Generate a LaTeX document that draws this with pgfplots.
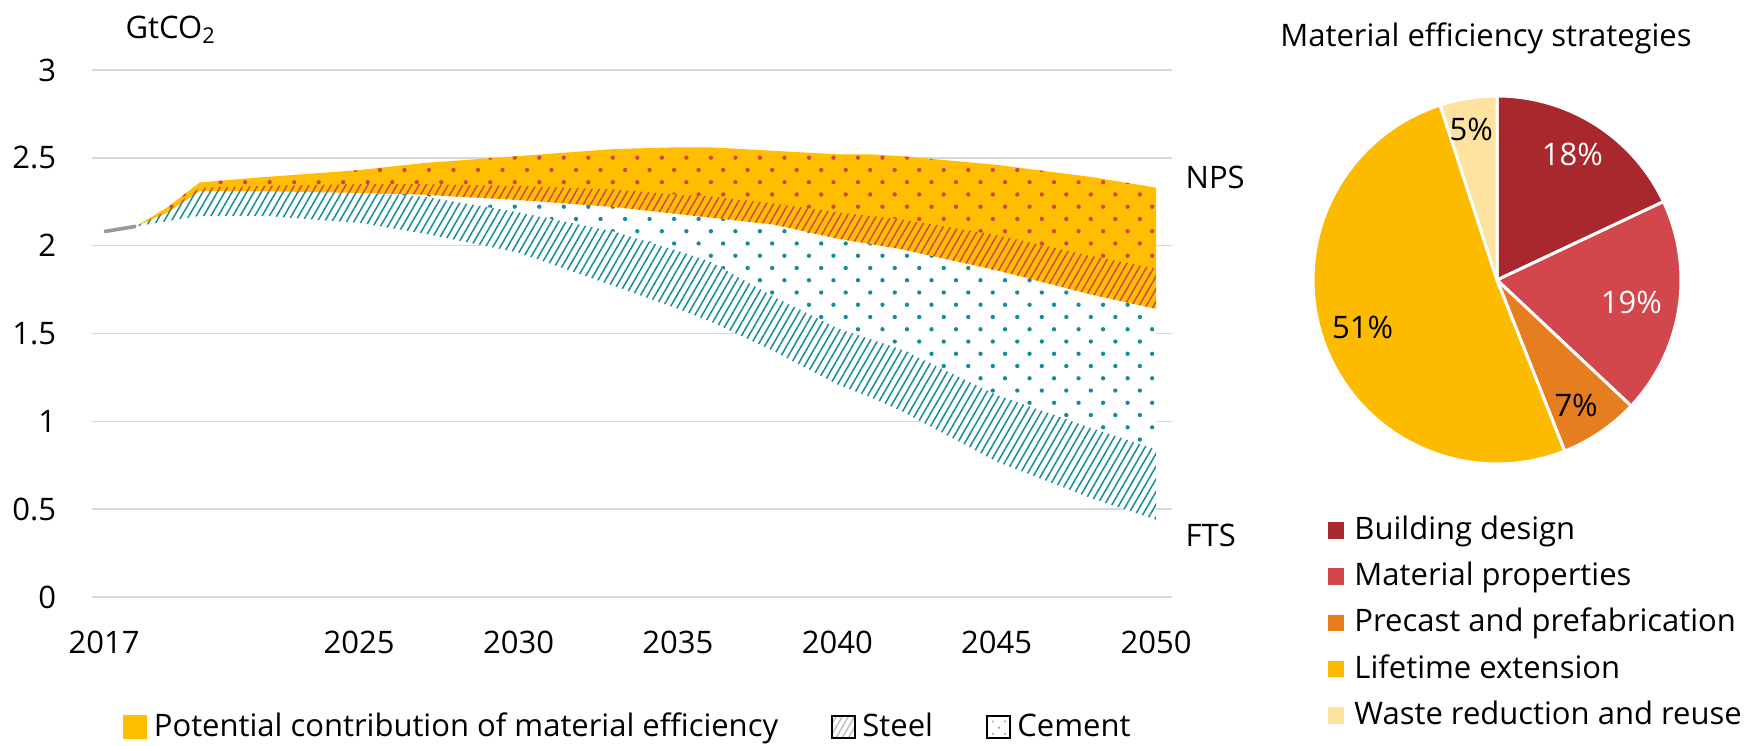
\documentclass[border=0pt]{standalone}
\usepackage{fontspec}
\setmainfont{Open Sans}
\usepackage{pgfplots}
\usepackage{pgfplotstable}
\pgfplotsset{compat=1.18}
\usepgfplotslibrary{fillbetween}
\usetikzlibrary{patterns.meta}

\definecolor{meyellow}{HTML}{FFBF00}
\definecolor{dotred}{HTML}{D2454B}
\definecolor{tealdot}{HTML}{138C9C}
\definecolor{gridgray}{HTML}{D9D9D9}
\definecolor{cbuild}{HTML}{A8282E}
\definecolor{cmat}{HTML}{D1474C}
\definecolor{cprecast}{HTML}{E67D1E}
\definecolor{clife}{HTML}{FDBB00}
\definecolor{cwaste}{HTML}{FEE3A0}

% boundaries of the bands, GtCO2 (A = NPS ... E = FTS)
\pgfplotstableread{
year A    B    C    D    E
2018 2.11 2.11 2.11 2.11 2.11
2019 2.22 2.20 2.19 2.19 2.14
2020 2.36 2.33 2.31 2.31 2.17
2022 2.39 2.34 2.31 2.31 2.17
2025 2.43 2.35 2.30 2.30 2.13
2027 2.47 2.35 2.29 2.28 2.07
2030 2.51 2.34 2.26 2.19 1.96
2033 2.55 2.32 2.22 2.08 1.77
2035 2.56 2.29 2.18 1.97 1.64
2036 2.56 2.28 2.16 1.91 1.57
2038 2.54 2.24 2.12 1.71 1.40
2040 2.52 2.19 2.04 1.53 1.21
2041 2.52 2.17 2.01 1.47 1.14
2042 2.51 2.15 1.98 1.41 1.06
2045 2.46 2.06 1.86 1.15 0.77
2048 2.39 1.94 1.72 0.96 0.56
2050 2.33 1.87 1.64 0.84 0.44
}\bands

\begin{document}
\fontsize{9.3}{11}\selectfont
\begin{tikzpicture}

\begin{axis}[
    at={(27.6pt,44.7pt)}, anchor=south west,
    width=324pt, height=158.1pt, scale only axis,
    xmin=2016.62, xmax=2050.5, ymin=0, ymax=3,
    axis line style={draw=none},
    major tick length=0pt,
    ymajorgrids, grid style={gridgray, line width=0.45pt},
    xtick={2017,2025,2030,2035,2040,2045,2050},
    ytick={0,0.5,1,1.5,2,2.5,3},
    /pgf/number format/assume math mode=true,
    x tick label style={/pgf/number format/1000 sep={}, yshift=-7pt},
    y tick label style={xshift=-7.5pt},
    legend style={at={(0.028,-0.247)}, anchor=west, draw=none, fill=none,
        inner sep=0pt, legend columns=3,
        /tikz/every even column/.append style={column sep=14pt}},
]
\addlegendimage{legend image code/.code={\fill[meyellow] (0pt,-3.3pt) rectangle (6.9pt,3.3pt);}}
\addlegendentry{Potential contribution of material efficiency}
\addlegendimage{legend image code/.code={\fill[pattern={Lines[angle=60,distance=1.6pt,line width=0.4pt]}, pattern color=gray!55] (0pt,-3.3pt) rectangle (6.9pt,3.3pt);}}
\addlegendentry{Steel}
\addlegendimage{legend image code/.code={\fill[pattern={Dots[distance=2.6pt,angle=45,radius=0.4pt]}, pattern color=gray!70] (0pt,-3.3pt) rectangle (6.9pt,3.3pt);}}
\addlegendentry{Cement}

\addplot[name path=A, draw=none] table[x=year, y=A] {\bands};
\addplot[name path=B, draw=none] table[x=year, y=B] {\bands};
\addplot[name path=C, draw=none] table[x=year, y=C] {\bands};
\addplot[name path=D, draw=none] table[x=year, y=D] {\bands};
\addplot[name path=E, draw=none] table[x=year, y=E] {\bands};

\addplot[fill=white, draw=none] fill between[of=C and E];
\addplot[fill=meyellow, draw=none] fill between[of=A and C];
\addplot[draw=none, pattern={Dots[distance=5.2pt,angle=45,radius=0.65pt]}, pattern color=dotred] fill between[of=A and B];
\addplot[draw=none, pattern={Lines[angle=60,distance=1.9pt,line width=0.45pt]}, pattern color=dotred] fill between[of=B and C];
\addplot[draw=none, pattern={Dots[distance=5.2pt,angle=45,radius=0.65pt]}, pattern color=tealdot] fill between[of=C and D];
\addplot[draw=none, pattern={Lines[angle=60,distance=1.9pt,line width=0.45pt]}, pattern color=tealdot] fill between[of=D and E];

\addplot[gray!80, line width=1.1pt] coordinates {(2017,2.08) (2018,2.11)};
\end{axis}

\node[anchor=west, inner sep=0pt] at (37.5pt,214.8pt) {GtCO\textsubscript{2}};
\node[anchor=west, inner sep=0pt] at (355.5pt,170.7pt) {NPS};
\node[anchor=west, inner sep=0pt] at (355.5pt,63.3pt) {FTS};

% pie: shares 18, 19, 7, 51, 5 %, clockwise from the top
\begin{axis}[
    at={(393.9pt,84.6pt)}, anchor=south west,
    width=110.4pt, height=110.4pt, scale only axis,
    hide axis, xmin=-1, xmax=1, ymin=-1, ymax=1,
    legend cell align=left,
    legend image code/.code={\fill[#1, draw=none] (0pt,-2.5pt) rectangle (5pt,2.5pt); \path (6.6pt,0pt);},
    legend style={at={(0.038,-0.127)}, anchor=north west, draw=none, fill=none,
        inner sep=0pt, row sep=2.4pt,
        nodes={inner sep=1pt, text height=1.5ex, text depth=0.4ex}},
]
\addplot[fill=cbuild, draw=white, line width=0.9pt, domain=25.2:90, samples=40] ({cos(x)},{sin(x)}) -- (0,0) -- cycle;
\addlegendentry{Building design}
\addplot[fill=cmat, draw=white, line width=0.9pt, domain=-43.2:25.2, samples=40] ({cos(x)},{sin(x)}) -- (0,0) -- cycle;
\addlegendentry{Material properties}
\addplot[fill=cprecast, draw=white, line width=0.9pt, domain=-68.4:-43.2, samples=20] ({cos(x)},{sin(x)}) -- (0,0) -- cycle;
\addlegendentry{Precast and prefabrication}
\addplot[fill=clife, draw=white, line width=0.9pt, domain=-252:-68.4, samples=90] ({cos(x)},{sin(x)}) -- (0,0) -- cycle;
\addlegendentry{Lifetime extension}
\addplot[fill=cwaste, draw=white, line width=0.9pt, domain=-270:-252, samples=12] ({cos(x)},{sin(x)}) -- (0,0) -- cycle;
\addlegendentry{Waste reduction and reuse}

\node[white] at (axis cs:0.41,0.68) {18\%};
\node[white] at (axis cs:0.73,-0.12) {19\%};
\node at (axis cs:0.43,-0.68) {7\%};
\node at (axis cs:-0.73,-0.26) {51\%};
\node at (axis cs:-0.14,0.82) {5\%};
\end{axis}

\node at (445.8pt,212.4pt) {Material efficiency strategies};

\pgfresetboundingbox
\useasboundingbox (0,0) rectangle (524.7pt,223.8pt);
\end{tikzpicture}
\end{document}
